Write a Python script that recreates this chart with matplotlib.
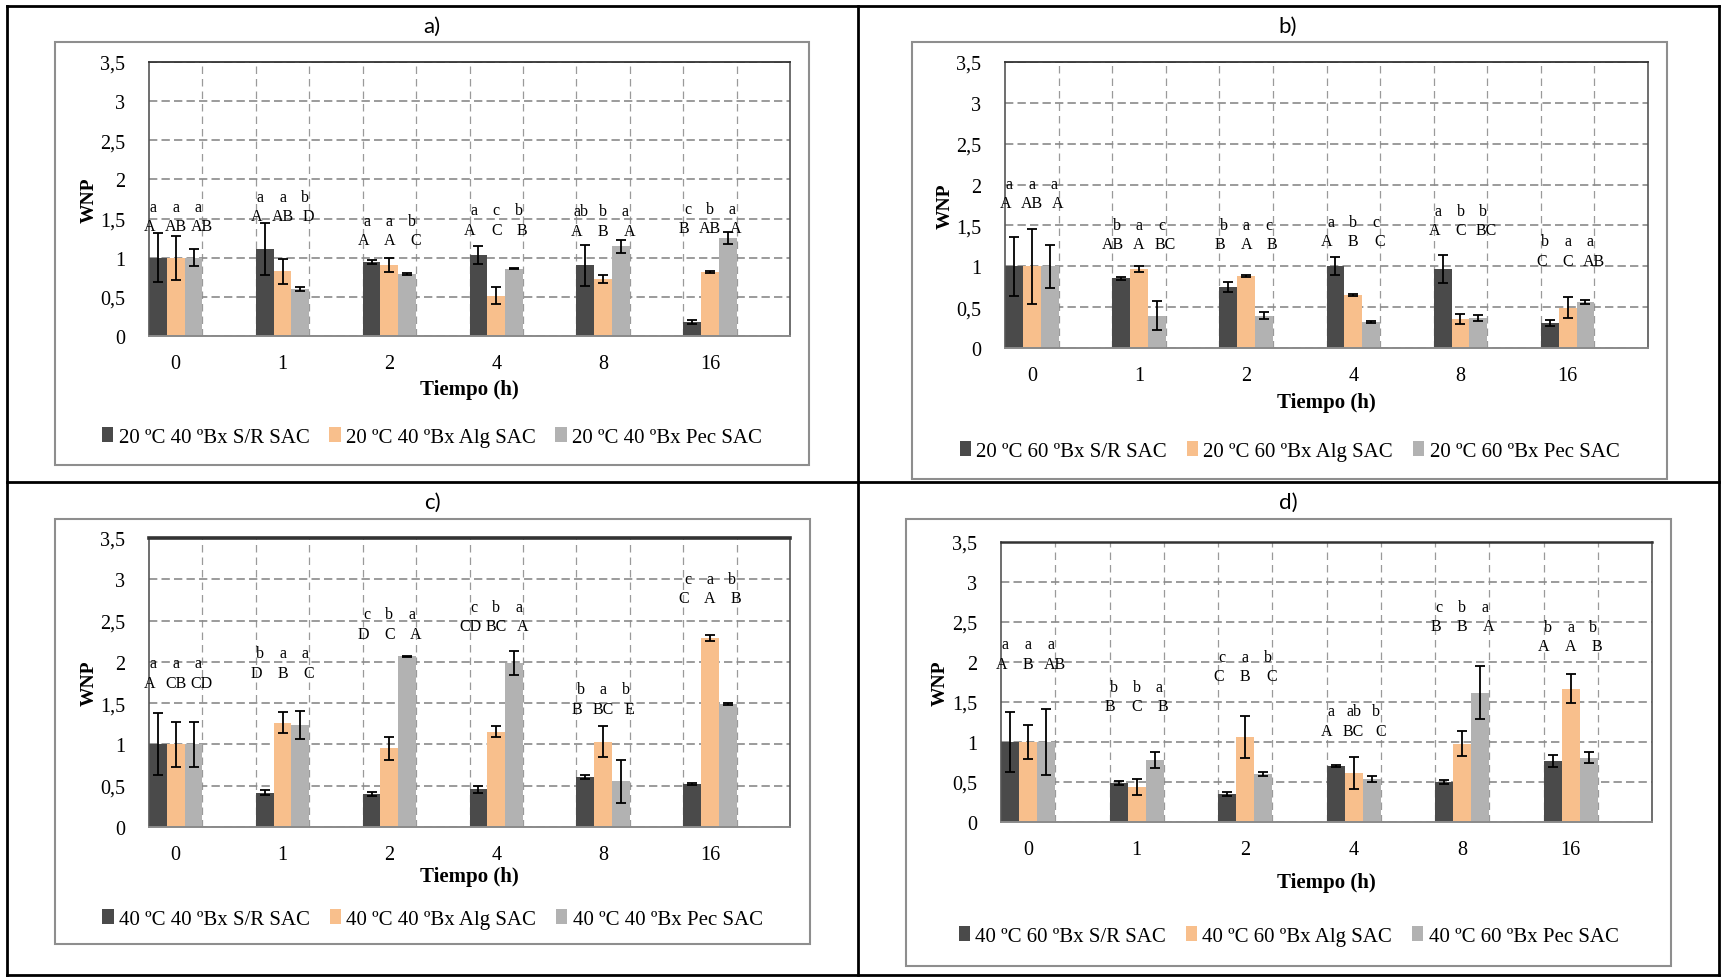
import matplotlib
matplotlib.use("Agg")
import matplotlib.pyplot as plt
from matplotlib.lines import Line2D
from matplotlib.patches import Rectangle, Patch
from matplotlib.ticker import FixedLocator, FuncFormatter

plt.rcParams['font.family'] = ['Liberation Serif', 'DejaVu Serif']

W, H = 1722, 978

times = ['0', '1', '2', '4', '8', '16']

# panel a: 20 ºC 40 ºBx
a_sr = [1.00, 1.115, 0.94, 1.03, 0.905, 0.175]
a_sr_err = [0.31, 0.33, 0.025, 0.115, 0.26, 0.025]
a_alg = [1.00, 0.825, 0.905, 0.515, 0.725, 0.815]
a_alg_err = [0.28, 0.155, 0.09, 0.105, 0.05, 0.01]
a_pec = [1.00, 0.605, 0.795, 0.86, 1.145, 1.25]
a_pec_err = [0.11, 0.025, 0.01, 0.01, 0.08, 0.075]
a_lower = [('a', 'a', 'a'), ('a', 'a', 'b'), ('a', 'a', 'b'), ('a', 'c', 'b'), ('ab', 'b', 'a'), ('c', 'b', 'a')]
a_upper = [('A', 'AB', 'AB'), ('A', 'AB', 'D'), ('A', 'A', 'C'), ('A', 'C', 'B'), ('A', 'B', 'A'), ('B', 'AB', 'A')]

# panel b: 20 ºC 60 ºBx
b_sr = [1.00, 0.855, 0.75, 1.00, 0.965, 0.305]
b_sr_err = [0.36, 0.02, 0.063, 0.11, 0.175, 0.04]
b_alg = [1.00, 0.97, 0.88, 0.65, 0.355, 0.495]
b_alg_err = [0.46, 0.035, 0.01, 0.01, 0.06, 0.133]
b_pec = [1.00, 0.395, 0.395, 0.32, 0.365, 0.56]
b_pec_err = [0.26, 0.175, 0.04, 0.01, 0.037, 0.027]
b_lower = [('a', 'a', 'a'), ('b', 'a', 'c'), ('b', 'a', 'c'), ('a', 'b', 'c'), ('a', 'b', 'b'), ('b', 'a', 'a')]
b_upper = [('A', 'AB', 'A'), ('AB', 'A', 'BC'), ('B', 'A', 'B'), ('A', 'B', 'C'), ('A', 'C', 'BC'), ('C', 'C', 'AB')]

# panel c: 40 ºC 40 ºBx
c_sr = [1.00, 0.415, 0.395, 0.455, 0.605, 0.52]
c_sr_err = [0.375, 0.033, 0.025, 0.04, 0.022, 0.01]
c_alg = [1.00, 1.265, 0.955, 1.155, 1.035, 2.29]
c_alg_err = [0.27, 0.13, 0.14, 0.063, 0.19, 0.033]
c_pec = [1.00, 1.24, 2.065, 1.985, 0.555, 1.49]
c_pec_err = [0.27, 0.17, 0.01, 0.147, 0.26, 0.015]
c_lower = [('a', 'a', 'a'), ('b', 'a', 'a'), ('c', 'b', 'a'), ('c', 'b', 'a'), ('b', 'a', 'b'), ('c', 'a', 'b')]
c_upper = [('A', 'CB', 'CD'), ('D', 'B', 'C'), ('D', 'C', 'A'), ('CD', 'BC', 'A'), ('B', 'BC', 'E'), ('C', 'A', 'B')]

# panel d: 40 ºC 60 ºBx
d_sr = [1.00, 0.487, 0.353, 0.703, 0.50, 0.757]
d_sr_err = [0.37, 0.02, 0.027, 0.01, 0.02, 0.075]
d_alg = [1.00, 0.44, 1.065, 0.607, 0.977, 1.667]
d_alg_err = [0.21, 0.10, 0.26, 0.20, 0.157, 0.177]
d_pec = [1.00, 0.775, 0.60, 0.54, 1.617, 0.805]
d_pec_err = [0.41, 0.10, 0.03, 0.035, 0.335, 0.068]
d_lower = [('a', 'a', 'a'), ('b', 'b', 'a'), ('c', 'a', 'b'), ('a', 'ab', 'b'), ('c', 'b', 'a'), ('b', 'a', 'b')]
d_upper = [('A', 'B', 'AB'), ('B', 'C', 'B'), ('C', 'B', 'C'), ('A', 'BC', 'C'), ('B', 'B', 'A'), ('A', 'A', 'B')]

colors = ['#4a4a4a', '#f8bf8c', '#b2b2b2']

# layout of each cell (pixels): plot box, outer chart frame, text rows
panels = [
    dict(tag='a)', temp=20, brix=40, data=(a_sr, a_alg, a_pec), err=(a_sr_err, a_alg_err, a_pec_err),
         lower=a_lower, upper=a_upper, label_y=[1.40, 1.53, 1.22, 1.36, 1.346, 1.38],
         plot=(149, 63, 790, 337), frame=(55, 43, 809, 466), title=(432, 27),
         ylab_x=89, xlab_y=390, leg_y=438, top_lw=1.3),
    dict(tag='b)', temp=20, brix=60, data=(b_sr, b_alg, b_pec), err=(b_sr_err, b_alg_err, b_pec_err),
         lower=b_lower, upper=b_upper, label_y=[1.77, 1.27, 1.27, 1.31, 1.44, 1.07],
         plot=(1005, 63, 1648, 349), frame=(912, 43, 1667, 480), title=(1288, 27),
         ylab_x=945, xlab_y=403, leg_y=452, top_lw=1.3),
    dict(tag='c)', temp=40, brix=40, data=(c_sr, c_alg, c_pec), err=(c_sr_err, c_alg_err, c_pec_err),
         lower=c_lower, upper=c_upper, label_y=[1.745, 1.866, 2.34, 2.43, 1.43, 2.77],
         plot=(149, 539, 790, 828), frame=(55, 520, 810, 945), title=(432, 503),
         ylab_x=89, xlab_y=877, leg_y=920, top_lw=2.6),
    dict(tag='d)', temp=40, brix=60, data=(d_sr, d_alg, d_pec), err=(d_sr_err, d_alg_err, d_pec_err),
         lower=d_lower, upper=d_upper, label_y=[1.98, 1.45, 1.82, 1.14, 2.45, 2.20],
         plot=(1001, 543, 1652, 823), frame=(906, 520, 1671, 967), title=(1288, 503),
         ylab_x=940, xlab_y=883, leg_y=937, top_lw=1.8),
]


def fx(x):
    return x / W


def fy(y):
    return 1 - y / H


def comma(v, pos):
    s = '%g' % v
    return s.replace('.', ',')


fig = plt.figure(figsize=(W / 100, H / 100), dpi=100)
fig.patch.set_facecolor('white')

# table borders
for (x0, y0, x1, y1) in [(7, 7, 1719, 7), (7, 976, 1719, 976), (7, 7, 7, 976), (1719, 7, 1719, 976),
                         (857.5, 7, 857.5, 976), (7, 483, 1719, 483)]:
    fig.add_artist(Line2D([fx(x0), fx(x1)], [fy(y0), fy(y1)], color='black', lw=2.0,
                          transform=fig.transFigure))

width = 1 / 6
offsets = [-width, 0, width]
# letters sit a little wider apart than the bars
low_step = 0.21
up_step = 0.245

for p in panels:
    L, T, R, B = p['frame']
    fig.add_artist(Rectangle((fx(L), fy(B)), fx(R - L), (B - T) / H, transform=fig.transFigure,
                             fill=False, edgecolor='#8e8e8e', lw=1.5))
    fig.text(fx(p['title'][0]), fy(p['title'][1]), p['tag'], ha='center', va='center',
             fontsize=16, family='Lato')

    L, T, R, B = p['plot']
    ax = fig.add_axes([fx(L), fy(B), (R - L) / W, (B - T) / H])
    ax.set_xlim(-0.25, 5.75)
    ax.set_ylim(0, 3.5)
    ax.set_axisbelow(True)

    names = ['%d ºC %d ºBx S/R SAC' % (p['temp'], p['brix']),
             '%d ºC %d ºBx Alg SAC' % (p['temp'], p['brix']),
             '%d ºC %d ºBx Pec SAC' % (p['temp'], p['brix'])]
    xs = list(range(len(times)))
    for k in range(3):
        xk = [x + offsets[k] for x in xs]
        ax.bar(xk, p['data'][k], width=width, color=colors[k], zorder=2, label=names[k])
        ax.errorbar(xk, p['data'][k], yerr=p['err'][k], fmt='none', ecolor='black',
                    elinewidth=1.3, capsize=3.5, capthick=1.3, zorder=3)

    # significance letters above each group
    for i in xs:
        for k in range(3):
            ax.text(i + (k - 1) * up_step, p['label_y'][i], p['upper'][i][k], ha='center', va='center',
                    fontsize=11.5, zorder=4)
            ax.annotate(p['lower'][i][k], (i + (k - 1) * low_step, p['label_y'][i]), xytext=(0, 14),
                        textcoords='offset points', ha='center', va='center',
                        fontsize=11.5, zorder=4)

    ax.yaxis.set_major_locator(FixedLocator([0, 0.5, 1, 1.5, 2, 2.5, 3, 3.5]))
    ax.yaxis.set_major_formatter(FuncFormatter(comma))
    ax.set_xticks(xs)
    ax.set_xticklabels(times)
    ax.xaxis.set_minor_locator(FixedLocator([0.25 + 0.5 * k for k in range(11)]))
    ax.tick_params(axis='both', which='both', length=0, labelsize=14.5)
    ax.tick_params(axis='y', pad=17)
    ax.tick_params(axis='x', pad=13)

    ax.grid(axis='y', which='major', color='#8a8a8a', lw=1.2, linestyle=(0, (5, 2.5)))
    ax.grid(axis='x', which='minor', color='#9a9a9a', lw=0.9, linestyle=(0, (6, 4)))

    for side in ['left', 'right']:
        ax.spines[side].set_color('#555555')
        ax.spines[side].set_linewidth(1.2)
    ax.spines['bottom'].set_color('#8a8a8a')
    ax.spines['bottom'].set_linewidth(1.4)
    ax.spines['top'].set_color('#333333')
    ax.spines['top'].set_linewidth(p['top_lw'])

    cx = (L + R) / 2
    fig.text(fx(p['ylab_x']), fy((T + B) / 2), 'WNP', rotation=90, ha='center', va='center',
             fontsize=14, fontweight='bold')
    fig.text(fx(cx), fy(p['xlab_y']), 'Tiempo (h)', ha='center', va='center',
             fontsize=15, fontweight='bold')

    handles = [Patch(facecolor=c, edgecolor='none') for c in colors]
    fL, fT, fR, fB = p['frame']
    fig.legend(handles, names, loc='center', bbox_to_anchor=(fx((fL + fR) / 2), fy(p['leg_y'])),
               ncol=3, frameon=False, prop={'size': 15},
               handlelength=0.55, handleheight=0.75, handletextpad=0.25, columnspacing=0.95,
               borderpad=0, borderaxespad=0)

fig.savefig('out.png', dpi=100)
